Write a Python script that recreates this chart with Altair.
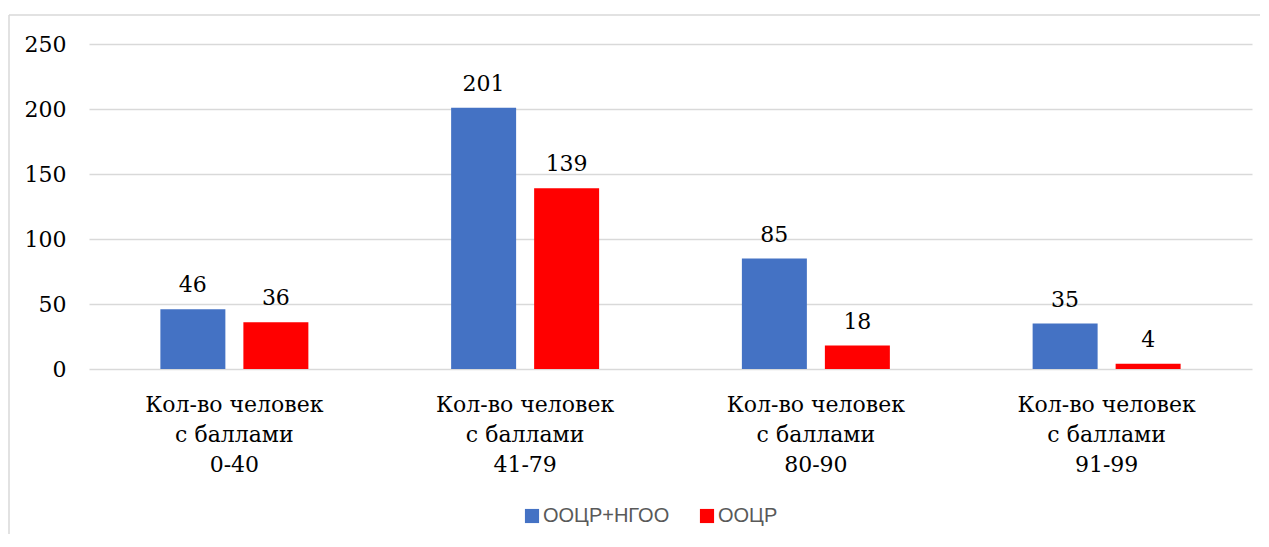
import altair as alt
import pandas as pd

categories = [
    "Кол-во человек\nс баллами\n0-40",
    "Кол-во человек\nс баллами\n41-79",
    "Кол-во человек\nс баллами\n80-90",
    "Кол-во человек\nс баллами\n91-99",
]
series = ["ООЦР+НГОО", "ООЦР"]
values_oocr_ngoo = [46, 201, 85, 35]
values_oocr = [36, 139, 18, 4]
colors = ["#4472C4", "#FF0000"]
y_ticks = [0, 50, 100, 150, 200, 250]

rows = []
for c, a, b in zip(categories, values_oocr_ngoo, values_oocr):
    rows.append({"cat": c, "series": series[0], "value": a})
    rows.append({"cat": c, "series": series[1], "value": b})
df = pd.DataFrame(rows)

W, H = 1163, 325
SERIF = "DejaVu Serif"
FS = 22

x_enc = alt.X("cat:N", sort=categories,
              scale=alt.Scale(paddingInner=0, paddingOuter=0),
              axis=alt.Axis(title=None, labelAngle=0, domain=False, ticks=False,
                            labelExpr="split(datum.label, '\\n')",
                            labelFont=SERIF, labelFontSize=FS, labelColor="#000000",
                            labelLineHeight=30, labelPadding=25, labelBaseline="top",
                            grid=False))
xo_enc = alt.XOffset("series:N", sort=series,
                     scale=alt.Scale(paddingInner=0.217, paddingOuter=0.86))
y_enc = alt.Y("value:Q", scale=alt.Scale(domain=[0, 250], nice=False, zero=True),
              axis=alt.Axis(title=None, values=y_ticks, domain=False, ticks=False,
                            labelFont=SERIF, labelFontSize=FS, labelColor="#000000",
                            labelPadding=23, grid=True, gridColor="#d9d9d9",
                            gridWidth=1.5))

base = alt.Chart(df)

bars = base.mark_bar().encode(
    x=x_enc,
    xOffset=xo_enc,
    y=y_enc,
    color=alt.Color("series:N", sort=series,
                    scale=alt.Scale(domain=series, range=colors),
                    legend=alt.Legend(title=None, orient="none", legendX=433, legendY=462,
                                      direction="horizontal", symbolType="square",
                                      symbolSize=200, symbolStrokeWidth=0,
                                      labelFont="Liberation Sans", labelFontSize=20,
                                      labelColor="#595959", labelOffset=1,
                                      columnPadding=27)),
)

labels = base.mark_text(font=SERIF, fontSize=FS, color="#000000", dy=-17,
                        baseline="alphabetic", align="center").encode(
    x=alt.X("cat:N", sort=categories),
    xOffset=alt.XOffset("series:N", sort=series),
    y=alt.Y("value:Q"),
    text=alt.Text("value:Q"),
)

frame_df = pd.DataFrame({"k": [0]})
top_line = alt.Chart(frame_df).mark_rule(color="#d9d9d9", strokeWidth=1.5).encode(
    x=alt.value(-80), x2=alt.value(W + 20), y=alt.value(-29))
left_line = alt.Chart(frame_df).mark_rule(color="#d9d9d9", strokeWidth=1.5).encode(
    x=alt.value(-80), y=alt.value(-29), y2=alt.value(H + 200))

chart = alt.layer(top_line, left_line, bars, labels).properties(
    width=W, height=H,
    autosize=alt.AutoSizeParams(type="none"),
    padding={"left": 81, "top": 36, "right": 8, "bottom": 165},
).configure(background="white").configure_view(stroke=None)

chart.save("out.html", embed_options={"renderer": "svg", "actions": False})
